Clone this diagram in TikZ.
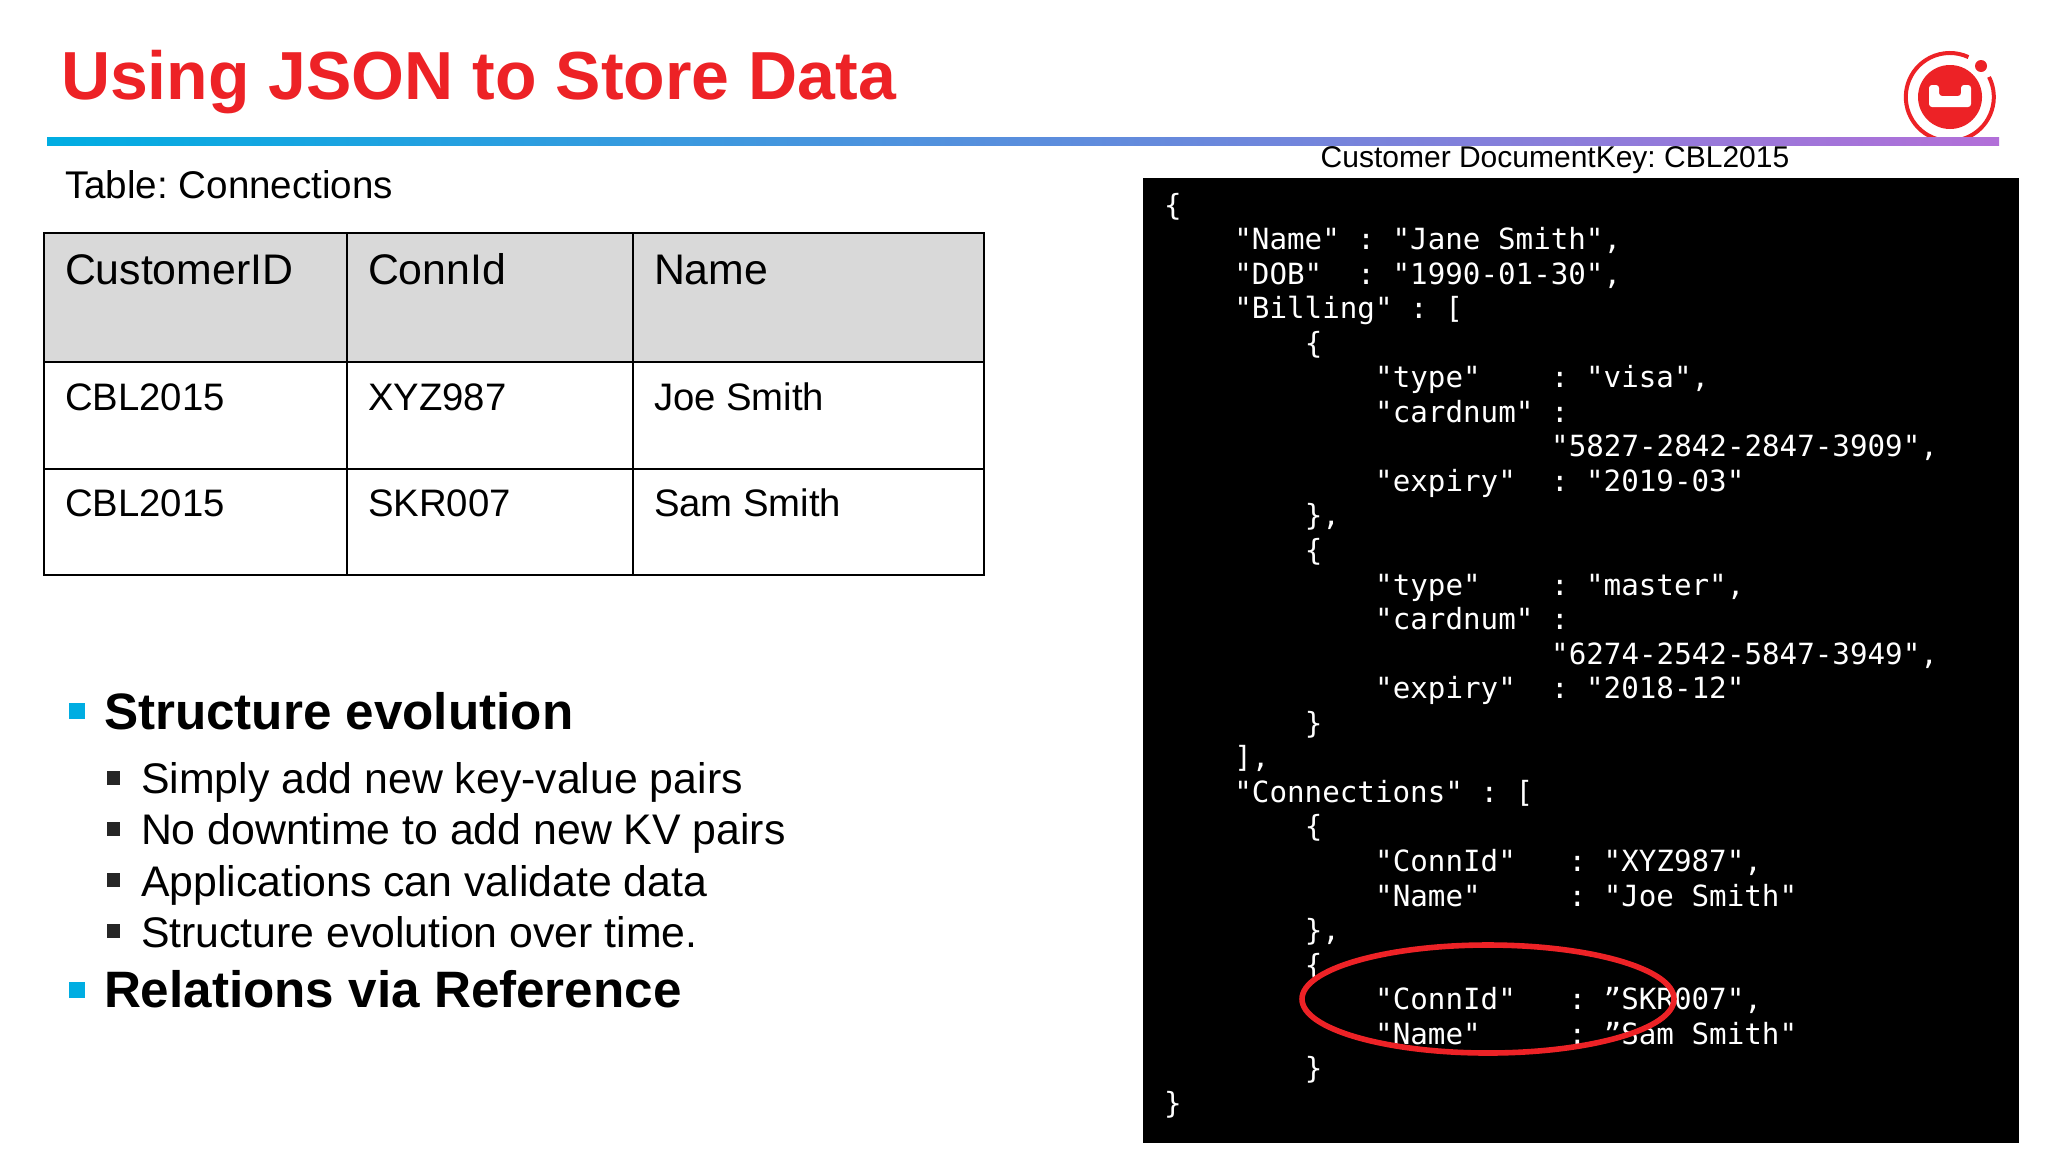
\documentclass[tikz,border=0pt]{standalone}
\usepackage{fontspec}
\setmainfont{Liberation Sans}
\newfontfamily\codefont{DejaVu Sans Mono}
\usetikzlibrary{shapes.geometric}
\frenchspacing
\definecolor{logored}{HTML}{ED2226}
\definecolor{headgray}{HTML}{D9D9D9}
\definecolor{barblue}{HTML}{00ADE2}
\definecolor{barpurple}{HTML}{B26FD8}
\tikzset{
  txt/.style={anchor=base west,inner sep=0pt,outer sep=0pt},
  cellhead/.style={txt,font=\fontsize{21.4}{24}\selectfont},
  cellrow/.style={txt,font=\fontsize{19.15}{22}\selectfont},
  mainitem/.style={txt,font=\fontsize{25.6}{28}\selectfont\bfseries},
  subitem/.style={txt,font=\fontsize{21.4}{24}\selectfont},
  codeline/.style={txt,text=white,font=\fontsize{14.6}{17}\codefont},
  gridline/.style={draw=black,line width=1.0pt}
}
\begin{document}
\begin{tikzpicture}[x=0.5pt,y=-0.5pt]
\useasboundingbox (0,0) rectangle (2048,1152);
\fill[white] (0,0) rectangle (2048,1152);
\node[txt,text=logored,font=\fontsize{34}{38}\selectfont\bfseries] (title) at (61,99) {Using JSON to Store Data};
% logo
\fill[logored] (1950,97) circle (16pt);
\fill[logored] (1981,66) circle (3pt);
\draw[logored,line width=2pt] (1989,77) arc[start angle=27,end angle=-295,radius=22pt];
\fill[white,rounded corners=1.5pt] (1929,85) -- (1939,85) -- (1939,96) -- (1961,96) -- (1961,85) -- (1971,85) -- (1971,107) -- (1929,107) -- cycle;
\shade[left color=barblue,right color=barpurple] (47,137) rectangle (1999,145);
\node[txt,font=\fontsize{15}{18}\selectfont,anchor=base] (dockey) at (1555,167) {Customer DocumentKey: CBL2015};
\node[txt,font=\fontsize{19.3}{22}\selectfont] (tablename) at (65,198) {Table: Connections};
% table
\fill[headgray] (44,233) rectangle (985,362);
\draw[gridline] (44,233) rectangle (984,575);
\draw[gridline] (44,362) -- (984,362);
\draw[gridline] (44,469) -- (984,469);
\draw[gridline] (347,233) -- (347,575);
\draw[gridline] (633,233) -- (633,575);
\node[cellhead] (h1) at (65,284) {CustomerID};
\node[cellhead] (h2) at (368,284) {ConnId};
\node[cellhead] (h3) at (654,284) {Name};
\node[cellrow] (a1) at (65,410) {CBL2015};
\node[cellrow] (a2) at (368,410) {XYZ987};
\node[cellrow] (a3) at (654,410) {Joe Smith};
\node[cellrow] (b1) at (65,516) {CBL2015};
\node[cellrow] (b2) at (368,516) {SKR007};
\node[cellrow] (b3) at (654,516) {Sam Smith};
% bullets
\fill[barblue] (69,703) rectangle (85,719);
\fill[barblue] (69,982) rectangle (85,998);
\foreach \y in {778,829,880,931}
  \fill[black!85] (107,\y-7) rectangle (120,\y+7);
\node[mainitem] (m1) at (104,729) {Structure evolution};
\node[mainitem] (m2) at (104,1007) {Relations via Reference};
\node[subitem] (s1) at (141,793) {Simply add new key-value pairs};
\node[subitem] (s2) at (141,844) {No downtime to add new KV pairs};
\node[subitem] (s3) at (141,896) {Applications can validate data};
\node[subitem] (s4) at (141,947) {Structure evolution over time.};
% document
\fill[black] (1143,178) rectangle (2019,1143);
\foreach \n/\col/\txt in {
  0/0/{\{},
  1/4/{"Name"~:~"Jane~Smith",},
  2/4/{"DOB"~~:~"1990-01-30",},
  3/4/{"Billing"~:~[},
  4/8/{\{},
  5/12/{"type"~~~~:~"visa",},
  6/12/{"cardnum"~:},
  7/22/{"5827-2842-2847-3909",},
  8/12/{"expiry"~~:~"2019-03"},
  9/8/{\},},
  10/8/{\{},
  11/12/{"type"~~~~:~"master",},
  12/12/{"cardnum"~:},
  13/22/{"6274-2542-5847-3949",},
  14/12/{"expiry"~~:~"2018-12"},
  15/8/{\}},
  16/4/{],},
  17/4/{"Connections"~:~[},
  18/8/{\{},
  19/12/{"ConnId"~~~:~"XYZ987",},
  20/12/{"Name"~~~~~:~"Joe~Smith"},
  21/8/{\},},
  22/8/{\{},
  23/12/{"ConnId"~~~:~”SKR007",},
  24/12/{"Name"~~~~~:~”Sam~Smith"},
  25/8/{\}},
  26/0/{\}}
}
  \node[codeline] (code\n) at (1164+\col*17.6,215+\n*34.55) {\txt};
\node[ellipse,draw=logored,line width=2.8pt,inner sep=0pt,minimum width=186pt,minimum height=54pt] (mark) at (1488,999) {};
\end{tikzpicture}
\end{document}
